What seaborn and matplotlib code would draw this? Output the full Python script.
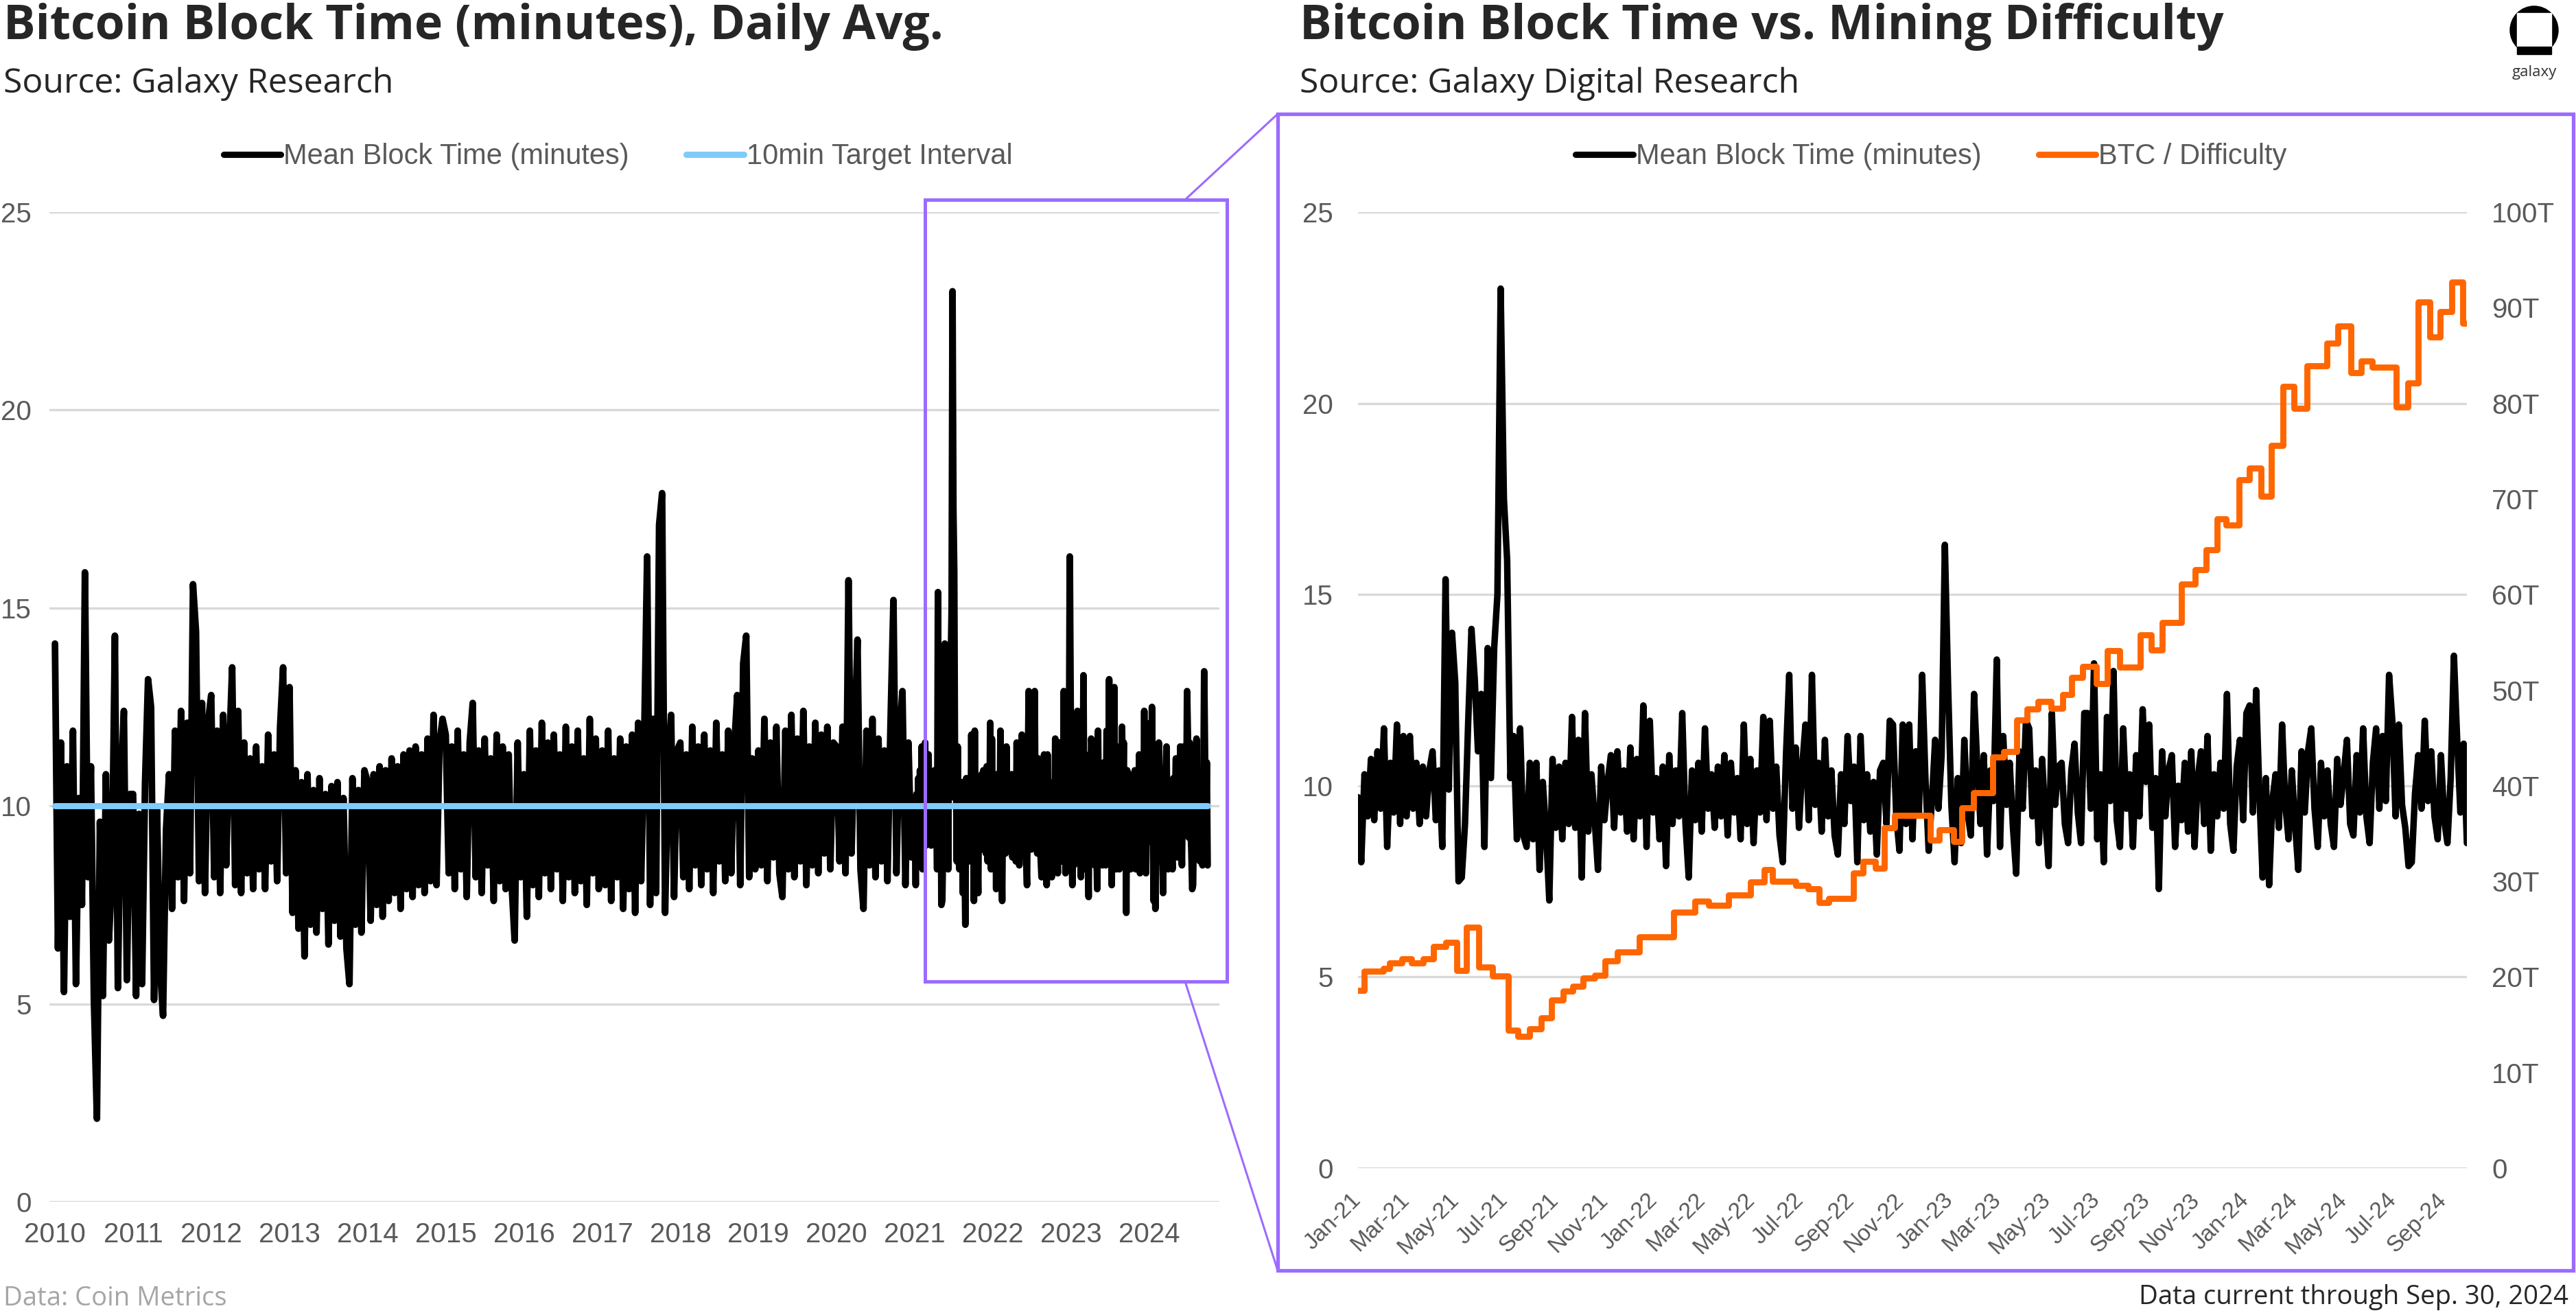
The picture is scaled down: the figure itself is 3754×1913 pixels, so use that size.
import pandas as pd
import matplotlib
matplotlib.use('Agg')
import matplotlib.pyplot as plt
import matplotlib.dates as mdates
from matplotlib.lines import Line2D
from matplotlib.patches import Rectangle, Circle
from matplotlib.ticker import FuncFormatter
import seaborn as sns

# mean block time (minutes), every ~14 days for 2010-2020
bt_2010 = [14.1, 6.4, 11.6, 5.3, 11.0, 7.2, 11.9, 5.5, 10.2, 7.5, 15.9, 8.2, 11.0,
           5.1, 2.1, 9.6, 5.2, 10.8, 6.6, 8.2, 14.3, 5.4, 10.5, 12.4, 5.6, 10.3]
bt_2011 = [10.3, 5.2, 9.8, 5.5, 10.6, 13.2, 12.5, 5.1, 9.9, 5.9, 4.7, 9.4, 10.8,
           7.4, 11.9, 8.2, 12.4, 7.6, 12.1, 8.3, 15.6, 14.4, 8.1, 12.6, 7.8, 12.1]
bt_2012 = [12.8, 8.2, 11.9, 7.8, 12.3, 8.5, 11.4, 13.5, 8.0, 12.4, 7.8, 11.6, 8.3,
           11.2, 7.9, 11.5, 8.4, 11.0, 7.9, 11.8, 8.6, 11.3, 8.1, 12.0, 13.5, 8.3]
bt_2013 = [13.0, 7.3, 10.9, 6.9, 10.6, 6.2, 10.8, 7.0, 10.4, 6.8, 10.7, 7.4, 10.3,
           6.5, 10.5, 7.1, 10.6, 6.7, 10.2, 6.4, 5.5, 10.7, 7.0, 10.4, 6.8, 10.9]
bt_2014 = [10.6, 7.1, 10.8, 7.5, 11.0, 7.2, 10.9, 7.6, 11.2, 7.8, 11.0, 7.4, 11.3,
           7.9, 11.4, 7.7, 11.5, 8.0, 11.3, 7.8, 11.7, 8.1, 12.3, 8.0, 11.6, 12.2]
bt_2015 = [11.8, 8.3, 11.5, 7.9, 11.9, 8.4, 11.3, 7.7, 11.6, 12.6, 8.2, 11.4, 7.8,
           11.7, 8.5, 11.2, 7.6, 11.8, 8.1, 11.5, 7.9, 11.3, 8.0, 6.6, 11.6, 8.2]
bt_2016 = [10.8, 7.2, 11.9, 8.0, 11.4, 7.7, 12.1, 8.3, 11.6, 7.9, 11.8, 8.4, 11.3,
           7.6, 12.0, 8.2, 11.5, 7.8, 11.9, 8.1, 11.2, 7.5, 12.2, 8.3, 11.7, 7.9]
bt_2017 = [11.4, 8.0, 11.9, 7.6, 11.2, 8.2, 11.7, 7.4, 11.5, 7.9, 11.8, 7.3, 12.1,
           8.1, 11.6, 16.3, 7.5, 12.2, 7.8, 17.1, 17.9, 7.3, 11.0, 12.3, 7.7, 11.4]
bt_2018 = [11.6, 8.2, 11.3, 7.9, 12.0, 8.5, 11.5, 8.0, 11.8, 8.4, 11.4, 7.8, 12.1,
           8.6, 11.3, 8.1, 11.9, 8.3, 11.5, 12.8, 8.0, 13.6, 14.3, 8.2, 11.2, 8.4]
bt_2019 = [11.4, 8.5, 12.2, 8.1, 11.6, 8.7, 12.0, 8.3, 7.7, 11.9, 8.4, 12.3, 8.2,
           11.7, 8.6, 12.4, 8.0, 11.5, 8.5, 12.1, 8.3, 11.8, 8.8, 12.0, 8.4, 11.6]
bt_2020 = [11.5, 8.6, 12.0, 8.3, 15.7, 8.8, 11.6, 14.2, 8.4, 7.4, 11.9, 8.5, 12.2,
           8.2, 11.7, 8.6, 11.4, 8.1, 12.0, 15.2, 8.3, 11.8, 12.9, 8.0, 11.6, 8.7]

# 2021 onward, every 4 days (used by both panels)
bt_2021 = [9.7, 8.0, 10.3, 9.2, 10.7, 9.1, 10.9, 9.4, 11.5, 8.4,
           10.6, 9.3, 11.6, 9.0, 11.3, 9.2, 11.3, 9.4, 10.6, 9.0,
           10.5, 9.2, 10.4, 10.9, 9.1, 10.4, 8.4, 15.4, 9.9, 14.0,
           12.7, 7.5, 7.6, 9.0, 11.7, 14.1, 12.8, 10.9, 12.4, 8.4,
           13.6, 10.2, 13.6, 15.0, 23.0, 17.5, 15.9, 10.2, 11.3, 8.6,
           11.5, 8.7, 8.4, 10.6, 8.6, 10.6, 7.8, 10.1, 8.8, 7.0,
           10.7, 8.9, 10.5, 8.6, 10.6, 9.0, 11.8, 8.9, 11.2, 7.6,
           11.9, 8.8, 10.3, 9.1, 7.8, 10.5, 9.1, 10.1, 10.8, 8.9,
           10.9, 9.3, 10.4, 8.8, 11.0, 8.6, 10.7, 9.2, 12.1, 8.4,
           11.7, 9.3]
bt_2022 = [10.2, 8.6, 10.5, 7.9, 10.8, 9.0, 10.4, 9.2, 11.9, 9.0,
           7.6, 10.4, 9.1, 10.6, 8.8, 11.5, 9.4, 10.3, 8.9, 10.5,
           9.2, 10.8, 8.7, 10.6, 9.3, 10.2, 8.6, 11.6, 9.0, 10.7,
           8.5, 10.4, 9.3, 11.8, 9.1, 11.7, 9.4, 10.5, 8.7, 8.0,
           10.8, 12.9, 9.4, 11.0, 8.9, 10.5, 11.6, 9.1, 12.9, 9.5,
           10.6, 8.8, 11.2, 9.2, 10.4, 8.7, 8.2, 10.3, 9.0, 11.3,
           9.6, 10.5, 8.0, 11.3, 9.1, 10.3, 8.8, 10.1, 8.2, 10.4,
           10.6, 9.0, 11.7, 11.6, 9.2, 8.3, 11.6, 9.0, 11.6, 8.6,
           10.9, 9.3, 12.9, 10.2, 8.3, 9.6, 11.2, 9.4, 10.8, 16.3,
           12.6]
bt_2023 = [9.5, 8.0, 10.2, 8.5, 11.2, 9.3, 8.7, 12.4, 10.5, 9.0,
           10.8, 8.2, 10.4, 9.6, 13.3, 8.4, 11.3, 9.5, 10.6, 8.9,
           7.7, 10.9, 9.4, 11.7, 11.5, 9.2, 10.4, 8.5, 10.7, 9.1,
           7.9, 11.9, 9.5, 10.5, 10.6, 9.0, 8.5, 10.4, 11.1, 9.3,
           8.5, 11.9, 11.9, 9.4, 13.2, 8.6, 10.3, 8.0, 11.8, 9.6,
           13.0, 9.1, 8.4, 11.5, 9.4, 10.3, 8.4, 10.8, 9.2, 12.0,
           10.1, 11.6, 8.9, 10.2, 7.3, 10.9, 9.2, 10.4, 10.8, 8.4,
           10.0, 9.1, 10.6, 8.8, 10.9, 8.4, 10.2, 10.9, 9.0, 11.3,
           8.3, 10.3, 9.2, 10.6, 9.4, 12.4, 9.0, 8.3, 10.5, 11.2,
           9.1]
bt_2024 = [11.9, 12.1, 9.3, 12.5, 9.8, 7.6, 10.2, 7.4, 9.6, 10.3,
           8.9, 11.6, 9.5, 8.6, 10.4, 9.0, 7.8, 10.9, 9.3, 10.9,
           11.5, 9.4, 8.4, 10.6, 9.2, 10.4, 9.0, 8.4, 10.7, 9.5,
           10.3, 11.2, 9.0, 8.7, 10.8, 9.3, 11.5, 9.2, 8.5, 10.6,
           11.5, 9.4, 11.3, 9.6, 12.9, 11.7, 9.2, 11.6, 9.5, 8.9,
           7.9, 8.0, 9.8, 10.8, 9.4, 11.7, 9.6, 10.9, 9.2, 8.6,
           10.8, 9.1, 8.5, 10.2, 13.4, 11.2, 9.3, 11.1, 8.5]

target_dates = ['2010-01-01', '2024-09-30']
target_vals = [10, 10]

# mining difficulty (T) at each adjustment
diff_dates = ['2021-01-01', '2021-01-09', '2021-02-01', '2021-02-09', '2021-02-24',
              '2021-03-08', '2021-03-22', '2021-04-04', '2021-04-19', '2021-05-03',
              '2021-05-15', '2021-05-30', '2021-06-16', '2021-07-05', '2021-07-17',
              '2021-08-01', '2021-08-15', '2021-08-28', '2021-09-11', '2021-09-23',
              '2021-10-06', '2021-10-20', '2021-11-02', '2021-11-17', '2021-12-14',
              '2022-01-25', '2022-02-21', '2022-03-10', '2022-04-03', '2022-04-30',
              '2022-05-17', '2022-05-27', '2022-06-25', '2022-07-10', '2022-07-24',
              '2022-08-05', '2022-09-04', '2022-09-16', '2022-10-01', '2022-10-12',
              '2022-10-25', '2022-12-08', '2022-12-19', '2023-01-06', '2023-01-16',
              '2023-01-30', '2023-02-23', '2023-03-09', '2023-03-25', '2023-04-06',
              '2023-04-20', '2023-05-06', '2023-05-20', '2023-05-31', '2023-06-14',
              '2023-07-01', '2023-07-14', '2023-07-30', '2023-08-24', '2023-09-07',
              '2023-09-20', '2023-10-14', '2023-10-31', '2023-11-13', '2023-11-27',
              '2023-12-08', '2023-12-24', '2024-01-06', '2024-01-20', '2024-02-02',
              '2024-02-16', '2024-03-01', '2024-03-17', '2024-04-10', '2024-04-24',
              '2024-05-10', '2024-05-23', '2024-06-05', '2024-07-05', '2024-07-19',
              '2024-08-01', '2024-08-15', '2024-08-28', '2024-09-11', '2024-09-25',
              '2024-09-30']
diff_vals = [18.6, 20.6, 20.9, 21.5, 21.9, 21.5, 21.9, 23.2, 23.6, 20.7,
             25.2, 21.0, 20.1, 14.4, 13.8, 14.6, 15.7, 17.6, 18.5, 19.0,
             19.9, 20.2, 21.7, 22.6, 24.2, 26.8, 27.9, 27.5, 28.6, 29.9,
             31.2, 30.0, 29.6, 29.2, 27.8, 28.2, 30.9, 32.1, 31.4, 35.6,
             36.9, 34.3, 35.4, 34.2, 37.7, 39.3, 43.0, 43.6, 46.9, 48.0,
             48.8, 48.1, 49.5, 51.3, 52.5, 50.7, 54.1, 52.4, 55.8, 54.2,
             57.1, 61.1, 62.6, 64.7, 67.9, 67.3, 72.0, 73.2, 70.3, 75.6,
             81.8, 79.5, 83.9, 86.3, 88.1, 83.2, 84.4, 83.8, 79.6, 82.1,
             90.6, 86.9, 89.6, 92.7, 88.4, 88.4]

early = {2010: bt_2010, 2011: bt_2011, 2012: bt_2012, 2013: bt_2013, 2014: bt_2014,
         2015: bt_2015, 2016: bt_2016, 2017: bt_2017, 2018: bt_2018, 2019: bt_2019,
         2020: bt_2020}
parts = [pd.DataFrame({'date': pd.date_range(f'{yr}-01-01', periods=len(v), freq='14D'),
                       'bt': v}) for yr, v in early.items()]
recent_vals = bt_2021 + bt_2022 + bt_2023 + bt_2024
recent = pd.DataFrame({'date': pd.date_range('2021-01-01', periods=len(recent_vals), freq='4D'),
                       'bt': recent_vals})
full = pd.concat(parts + [recent], ignore_index=True)
target = pd.DataFrame({'date': pd.to_datetime(target_dates), 'v': target_vals})
diff = pd.DataFrame({'date': pd.to_datetime(diff_dates), 'T': diff_vals})

sns.set_theme(style='white')
plt.rcParams['font.family'] = ['Liberation Sans', 'DejaVu Sans']

W, H = 3755, 1913
GRID = '#D9D9D9'
TICK = '#595959'
PURPLE = '#9B6BFF'
BLUE = '#7FCBFA'
ORANGE = '#FF6600'
TFONT = ['Open Sans', 'DejaVu Sans']

fig = plt.figure(figsize=(W / 100, H / 100), dpi=100)


def px_box(x0, y0, x1, y1):
    return [x0 / W, 1 - y1 / H, (x1 - x0) / W, (y1 - y0) / H]


ax1 = fig.add_axes(px_box(72, 309, 1777, 1751))
ax2 = fig.add_axes(px_box(1979, 309, 3595, 1702))
ax2r = ax2.twinx()

# left panel
sns.lineplot(data=full, x='date', y='bt', ax=ax1, color='black', linewidth=7.0,
             solid_joinstyle='round', solid_capstyle='round', legend=False)
sns.lineplot(data=target, x='date', y='v', ax=ax1, color=BLUE, linewidth=6.4, legend=False)
ax1.set_ylim(0, 25)
ax1.set_yticks(range(0, 26, 5))
ax1.set_xlim(pd.Timestamp('2009-12-06'), pd.Timestamp('2024-11-24'))
ax1.xaxis.set_major_locator(mdates.YearLocator())
ax1.xaxis.set_major_formatter(mdates.DateFormatter('%Y'))
ax1.grid(axis='y', color=GRID, linewidth=2.4)
ax1.grid(axis='x', visible=False)
ax1.set_axisbelow(True)

# right panel
sns.lineplot(data=recent, x='date', y='bt', ax=ax2, color='black', linewidth=6.8,
             solid_joinstyle='round', solid_capstyle='round', legend=False)
sns.lineplot(data=diff, x='date', y='T', ax=ax2r, color=ORANGE, linewidth=6.4,
             drawstyle='steps-post', legend=False)
ax2.set_ylim(0, 25)
ax2.set_yticks(range(0, 26, 5))
ax2r.set_ylim(0, 100)
ax2r.set_yticks(range(0, 101, 10))
ax2r.yaxis.set_major_formatter(FuncFormatter(lambda v, p: '0' if v == 0 else f'{int(v)}T'))
ax2.set_xlim(pd.Timestamp('2021-01-01'), pd.Timestamp('2024-09-30'))
ax2.xaxis.set_major_locator(mdates.MonthLocator(bymonth=[1, 3, 5, 7, 9, 11]))
ax2.xaxis.set_major_formatter(mdates.DateFormatter('%b-%y'))
ax2.grid(axis='y', color=GRID, linewidth=2.4)
ax2.grid(axis='x', visible=False)
ax2r.grid(False)
ax2.set_axisbelow(True)

for ax in (ax1, ax2, ax2r):
    for s in ax.spines.values():
        s.set_visible(False)
    ax.tick_params(length=0, colors=TICK, labelsize=29)
    ax.set_xlabel('')
    ax.set_ylabel('')
ax1.tick_params(axis='y', pad=19)
ax1.tick_params(axis='x', pad=21)
ax2.tick_params(axis='y', pad=26)
ax2r.tick_params(axis='y', pad=26)
ax2.tick_params(axis='x', pad=30, labelsize=24, labelrotation=45)
plt.setp(ax2.get_xticklabels(), ha='right', va='center', rotation_mode='anchor')

# legends
leg_kw = dict(loc='center', ncol=2, frameon=False, fontsize=30, labelcolor=TICK,
              handlelength=2.0, handletextpad=0.1, columnspacing=2.0)
h_black = Line2D([0], [0], color='black', lw=6.6, solid_capstyle='round')
ax1.legend([h_black, Line2D([0], [0], color=BLUE, lw=6.6, solid_capstyle='round')],
           ['Mean Block Time (minutes)', '10min Target Interval'],
           bbox_to_anchor=(0.486, 1.056), **leg_kw)
ax2r.legend([h_black, Line2D([0], [0], color=ORANGE, lw=6.6, solid_capstyle='round')],
            ['Mean Block Time (minutes)', 'BTC / Difficulty'],
            bbox_to_anchor=(0.517, 1.058), **leg_kw)

# titles and notes
fig.text(5 / W, 1 - 57 / H, 'Bitcoin Block Time (minutes), Daily Avg.', fontsize=50,
         weight='bold', family=TFONT, va='baseline')
fig.text(5 / W, 1 - 135 / H, 'Source: Galaxy Research', fontsize=36, family=TFONT, va='baseline')
fig.text(1894 / W, 1 - 57 / H, 'Bitcoin Block Time vs. Mining Difficulty', fontsize=50,
         weight='bold', family=TFONT, va='baseline')
fig.text(1894 / W, 1 - 135 / H, 'Source: Galaxy Digital Research', fontsize=36, family=TFONT,
         va='baseline')
fig.text(5 / W, 1 - 1902 / H, 'Data: Coin Metrics', fontsize=27.5, family=TFONT,
         color='#A6A6A6', va='baseline')
fig.text(3743 / W, 1 - 1900 / H, 'Data current through Sep. 30, 2024', fontsize=27.5,
         family=TFONT, ha='right', va='baseline')

# overlay: zoom box, connectors, panel frame, logo
deco = fig.add_axes([0, 0, 1, 1])
deco.set_xlim(0, W)
deco.set_ylim(H, 0)
deco.set_axis_off()
deco.add_patch(Rectangle((1348, 291), 440, 1139, fill=False, ec=PURPLE, lw=3.6))
deco.add_patch(Rectangle((1862, 166), 1888, 1685, fill=False, ec=PURPLE, lw=3.8))
deco.plot([1727, 1862], [291, 166], color=PURPLE, lw=2.2)
deco.plot([1727, 1862], [1430, 1851], color=PURPLE, lw=2.2)
deco.add_patch(Circle((3693, 44), 35, color='black'))
deco.add_patch(Rectangle((3668, 19), 50, 49, color='white'))
deco.add_patch(Rectangle((3668, 68), 50, 11, color='black'))
deco.text(3693, 106, 'galaxy', fontsize=16, family=TFONT, color='#333333',
          ha='center', va='center')

fig.savefig('out.png', dpi=100)
